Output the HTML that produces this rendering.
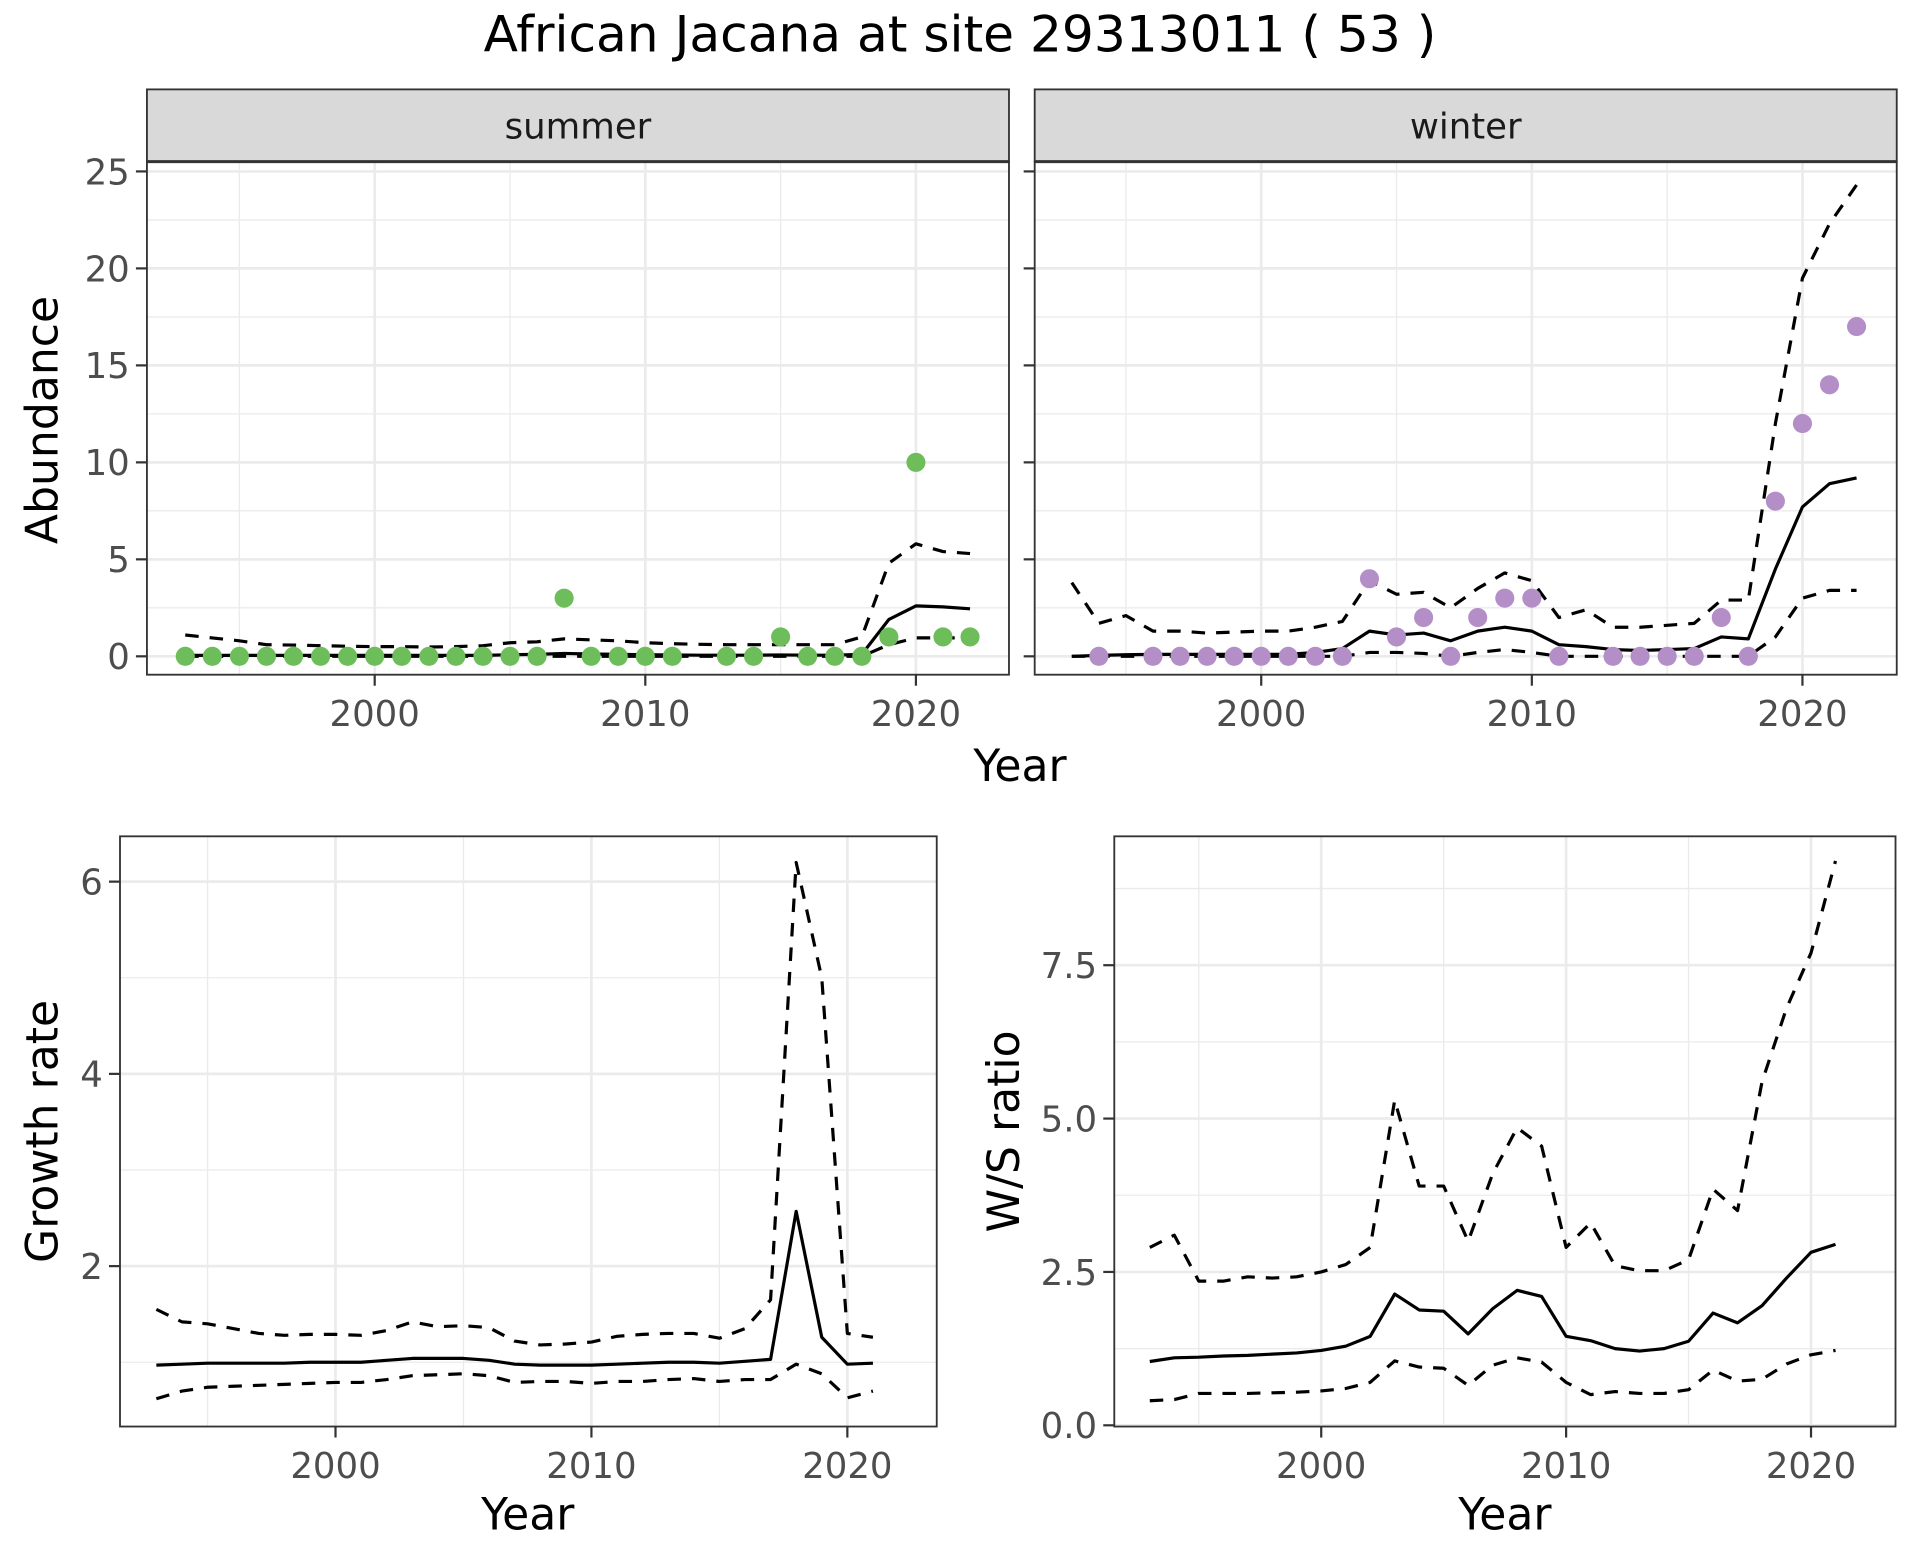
<!DOCTYPE html>
<html><head><meta charset="utf-8"><style>
html,body{margin:0;padding:0;background:#fff}
svg{display:block}
text{font-family:"DejaVu Sans","Liberation Sans",sans-serif}
</style></head><body>
<svg id="chart" width="1920" height="1560" viewBox="0 0 1568 1274" xmlns="http://www.w3.org/2000/svg">
<text x="784" y="42" font-size="41" text-anchor="middle" fill="#000">African Jacana at site 29313011 ( 53 )</text>
</svg>
<script>
const NS="http://www.w3.org/2000/svg";
const svg=document.getElementById('chart');
// ---- data ----
const sumPtYears=[1993,1994,1995,1996,1997,1998,1999,2000,2001,2002,2003,2004,2005,2006,2007,2008,2009,2010,2011,2013,2014,2015,2016,2017,2018,2019,2020,2021,2022];
const sumPtVals=[0,0,0,0,0,0,0,0,0,0,0,0,0,0,3,0,0,0,0,0,0,1,0,0,0,1,10,1,1];
const sumYears=[1993,1994,1995,1996,1997,1998,1999,2000,2001,2002,2003,2004,2005,2006,2007,2008,2009,2010,2011,2012,2013,2014,2015,2016,2017,2018,2019,2020,2021,2022];
const sumMean=[0.05,0.05,0.05,0.05,0.05,0.05,0.05,0.05,0.05,0.05,0.05,0.05,0.08,0.1,0.15,0.12,0.1,0.08,0.07,0.06,0.06,0.06,0.07,0.06,0.06,0.1,1.9,2.6,2.55,2.45];
const sumUpper=[1.1,0.95,0.8,0.6,0.58,0.55,0.52,0.5,0.5,0.48,0.5,0.55,0.7,0.75,0.9,0.85,0.8,0.7,0.65,0.62,0.6,0.6,0.6,0.6,0.6,1.0,4.8,5.8,5.4,5.3];
const sumLower=[0,0,0,0,0,0,0,0,0,0,0,0,0,0,0,0,0,0,0,0,0,0,0,0,0,0,0.6,0.95,0.95,0.95];
const winPtYears=[1994,1996,1997,1998,1999,2000,2001,2002,2003,2004,2005,2006,2007,2008,2009,2010,2011,2013,2014,2015,2016,2017,2018,2019,2020,2021,2022];
const winPtVals=[0,0,0,0,0,0,0,0,0,4,1,2,0,2,3,3,0,0,0,0,0,2,0,8,12,14,17];
const winYears=sumYears;
const winMean=[0,0.05,0.08,0.1,0.1,0.1,0.1,0.1,0.1,0.2,0.4,1.3,1.1,1.2,0.8,1.3,1.5,1.3,0.6,0.5,0.35,0.3,0.35,0.4,1.0,0.9,4.5,7.7,8.9,9.2];
const winUpper=[3.8,1.7,2.1,1.3,1.3,1.2,1.25,1.3,1.3,1.5,1.8,3.9,3.2,3.3,2.5,3.5,4.3,3.9,2.0,2.4,1.5,1.5,1.6,1.7,2.9,2.9,12,19.5,22.3,24.3];
const winLower=[0,0,0,0,0,0,0,0,0,0,0,0.2,0.2,0.15,0,0.2,0.35,0.2,0,0,0,0,0,0,0,0,1.0,3.0,3.4,3.4];
const grYears=[1993,1994,1995,1996,1997,1998,1999,2000,2001,2002,2003,2004,2005,2006,2007,2008,2009,2010,2011,2012,2013,2014,2015,2016,2017,2018,2019,2020,2021];
const grMean=[0.97,0.98,0.99,0.99,0.99,0.99,1.0,1.0,1.0,1.02,1.04,1.04,1.04,1.02,0.98,0.97,0.97,0.97,0.98,0.99,1.0,1.0,0.99,1.01,1.03,2.57,1.26,0.98,0.99];
const grUpper=[1.55,1.42,1.40,1.35,1.30,1.28,1.29,1.29,1.28,1.33,1.42,1.37,1.38,1.36,1.22,1.18,1.19,1.21,1.27,1.29,1.30,1.30,1.25,1.35,1.65,6.2,5.0,1.30,1.26];
const grLower=[0.62,0.70,0.74,0.75,0.76,0.77,0.78,0.79,0.79,0.82,0.86,0.87,0.88,0.86,0.79,0.80,0.80,0.78,0.80,0.80,0.82,0.83,0.80,0.82,0.82,0.98,0.88,0.63,0.70];
const wsYears=grYears;
const wsMean=[1.04,1.1,1.11,1.13,1.14,1.16,1.18,1.22,1.29,1.45,2.14,1.88,1.86,1.49,1.90,2.20,2.10,1.45,1.38,1.25,1.21,1.25,1.37,1.83,1.67,1.95,2.40,2.82,2.95];
const wsUpper=[2.9,3.1,2.35,2.35,2.42,2.40,2.42,2.50,2.62,2.90,5.30,3.90,3.90,3.00,4.10,4.85,4.55,2.90,3.30,2.60,2.52,2.52,2.70,3.85,3.50,5.60,6.80,7.70,9.20];
const wsLower=[0.40,0.42,0.52,0.52,0.52,0.53,0.54,0.56,0.60,0.70,1.05,0.95,0.93,0.65,0.98,1.10,1.03,0.70,0.50,0.55,0.52,0.52,0.58,0.90,0.72,0.75,1.00,1.15,1.22];
const xTicks=[2000,2010,2020];
const xMinor=[1995,2005,2015];
const abTicks=[0,5,10,15,20,25];
const abMinor=[2.5,7.5,12.5,17.5,22.5];
const grTicks=[2,4,6];
const grMinor=[1,3,5];
const wsTicks=[0.0,2.5,5.0,7.5];
const wsMinor=[1.25,3.75,6.25,8.75];

function el(tag,attrs,parent){const e=document.createElementNS(NS,tag);for(const k in attrs)e.setAttribute(k,attrs[k]);(parent||svg).appendChild(e);return e;}
function txt(s,attrs,parent){const e=el('text',attrs,parent);e.textContent=s;return e;}

function panel(o){
  const g=el('g',{});
  
  
  const sx=v=>o.x2000+(v-2000)*o.xs;
  const sy=v=>o.y0-v*o.ys;
  o.yMinor.forEach(v=>{const y=sy(v);if(y>o.top&&y<o.bottom)el('line',{x1:o.left,x2:o.right,y1:y,y2:y,stroke:'#ebebeb','stroke-width':1.1},g);});
  xMinor.forEach(v=>{el('line',{x1:sx(v),x2:sx(v),y1:o.top,y2:o.bottom,stroke:'#ebebeb','stroke-width':1.1},g);});
  o.yTicks.forEach(v=>{const y=sy(v);el('line',{x1:o.left,x2:o.right,y1:y,y2:y,stroke:'#ebebeb','stroke-width':2.2},g);});
  xTicks.forEach(v=>{el('line',{x1:sx(v),x2:sx(v),y1:o.top,y2:o.bottom,stroke:'#ebebeb','stroke-width':2.2},g);});
  const line=(ys,dash,nm)=>{
    const p=el('polyline',{points:o.years.map((yr,i)=>sx(yr)+','+sy(ys[i])).join(' '),fill:'none',stroke:'#000','stroke-width':2.6,'stroke-linejoin':'round'},g);
    if(dash)p.setAttribute('stroke-dasharray','11 9');
    
    
  };
  line(o.upper,true,'upper-ci-line');
  line(o.lower,true,'lower-ci-line');
  line(o.mean,false,'mean-line');
  if(o.ptYears){o.ptYears.forEach((yr,i)=>{
    const c=el('circle',{cx:sx(yr),cy:sy(o.ptVals[i]),r:7.8,fill:o.color},g);
    
    
  });}
  el('rect',{x:o.left,y:o.top,width:o.right-o.left,height:o.bottom-o.top,fill:'none',stroke:'#333','stroke-width':1.5},g);
  xTicks.forEach(v=>{el('line',{x1:sx(v),x2:sx(v),y1:o.bottom,y2:o.bottom+9,stroke:'#333','stroke-width':1.8},g);
    const t=txt(String(v),{x:sx(v),y:o.bottom+42,'font-size':29,'text-anchor':'middle',fill:'#4d4d4d'},g);});
  o.yTicks.forEach(v=>{const y=sy(v);el('line',{x1:o.left-9,x2:o.left,y1:y,y2:y,stroke:'#333','stroke-width':1.8},g);
    if(o.ylabels){const t=txt(o.fmt(v),{x:o.left-14,y:y+10.5,'font-size':29,'text-anchor':'end',fill:'#4d4d4d'},g);}});
  if(o.strip){
    const s=el('rect',{x:o.left,y:o.top-59,width:o.right-o.left,height:59,fill:'#d9d9d9',stroke:'#333','stroke-width':1.5},g);
    
    el('line',{x1:o.left,x2:o.right,y1:o.top,y2:o.top,stroke:'#333','stroke-width':2.5},g);
    const t=txt(o.strip,{x:(o.left+o.right)/2,y:o.top-19,'font-size':29,'text-anchor':'middle',fill:'#1a1a1a'},g);
    
  }
}
const fmtInt=v=>String(v), fmt1=v=>v.toFixed(1);
panel({name:'summer-panel',left:120,right:824,top:132,bottom:551,x2000:306,xs:22.1,y0:536,ys:15.84,yTicks:abTicks,yMinor:abMinor,years:sumYears,mean:sumMean,upper:sumUpper,lower:sumLower,ptYears:sumPtYears,ptVals:sumPtVals,color:'#6dbd5b',strip:'summer',ylabels:true,fmt:fmtInt});
panel({name:'winter-panel',left:845,right:1549,top:132,bottom:551,x2000:1030,xs:22.1,y0:536,ys:15.84,yTicks:abTicks,yMinor:abMinor,years:winYears,mean:winMean,upper:winUpper,lower:winLower,ptYears:winPtYears,ptVals:winPtVals,color:'#b48ec6',strip:'winter',ylabels:false,fmt:fmtInt});
panel({name:'growth-rate-panel',left:98,right:765,top:683,bottom:1165,x2000:274,xs:20.9,y0:1191,ys:78.5,yTicks:grTicks,yMinor:grMinor,years:grYears,mean:grMean,upper:grUpper,lower:grLower,ylabels:true,fmt:fmtInt});
panel({name:'ws-ratio-panel',left:910,right:1548,top:683,bottom:1165,x2000:1079,xs:20.0,y0:1164,ys:50.1,yTicks:wsTicks,yMinor:wsMinor,years:wsYears,mean:wsMean,upper:wsUpper,lower:wsLower,ylabels:true,fmt:fmt1});
function title(s,x,y,rot,nm){const t=txt(s,{x:x,y:y,'font-size':36,'text-anchor':'middle',fill:'#000'});if(rot)t.setAttribute('transform','rotate(-90 '+x+' '+y+')');}
title('Abundance',47,343,true,'y-axis-title-abundance');
title('Year',833,638,false,'x-axis-title-top');
title('Growth rate',47,924,true,'y-axis-title-growth');
title('Year',431,1249,false,'x-axis-title-growth');
title('W/S ratio',832,924,true,'y-axis-title-ws');
title('Year',1229,1249,false,'x-axis-title-ws');
</script>
</body></html>
